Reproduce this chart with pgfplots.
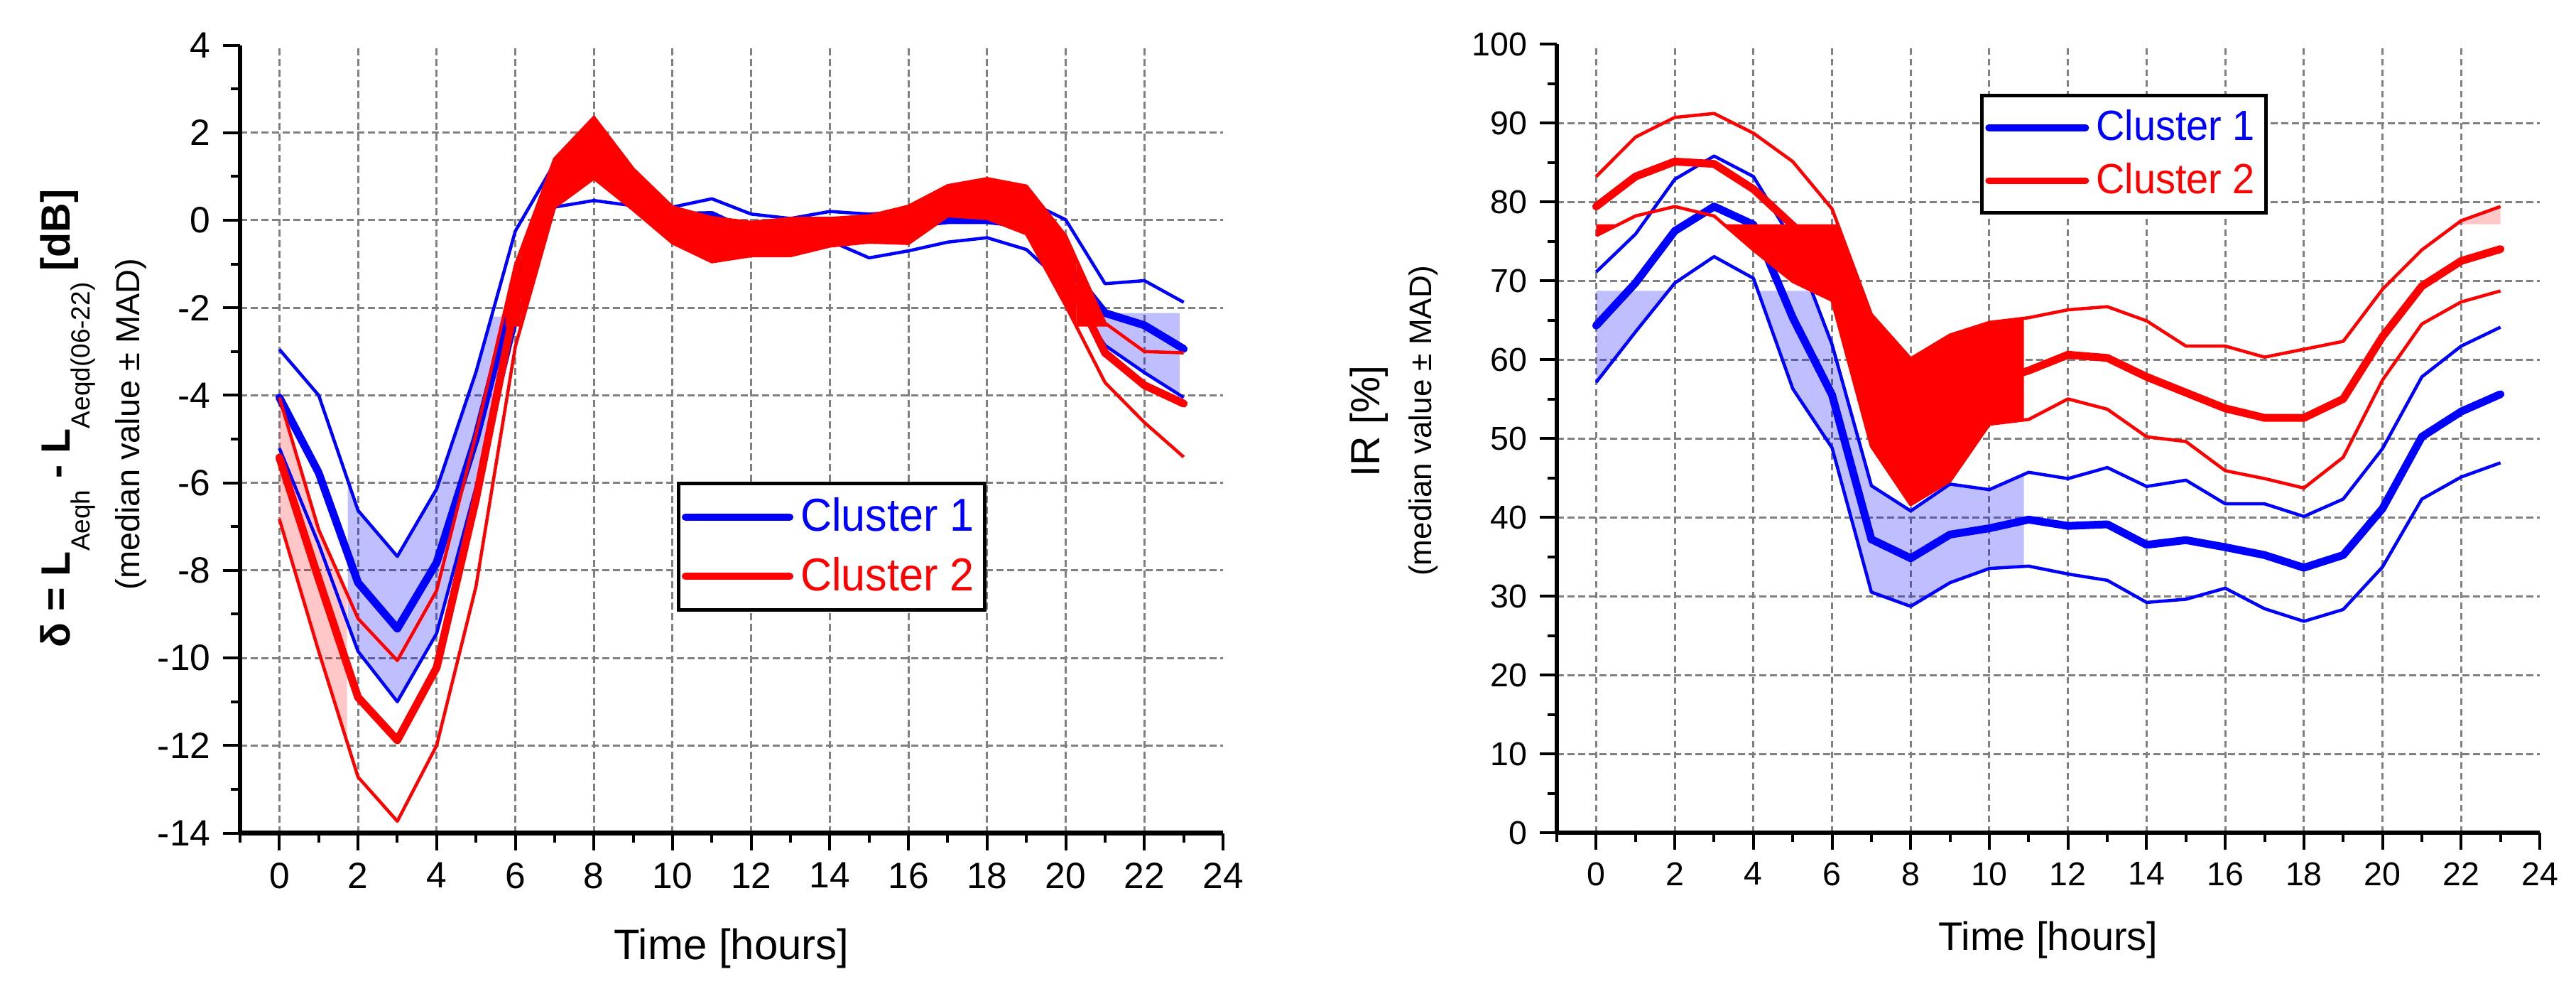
\documentclass[border=0pt]{standalone}
\usepackage{fontspec}
\setmainfont{Liberation Sans}
\newfontfamily\legfont{Liberation Sans}[FakeStretch=0.94]
\usepackage{pgfplots}
\pgfplotsset{compat=1.18}
\usepackage{pgfplotstable}
\usepgfplotslibrary{fillbetween}

% columns: C1 upper/median/lower, C2 upper/median/lower (median +- MAD)
\pgfplotstableread{
x  bu     bm     bl     ru     rm     rl
0  -2.95  -4.05  -5.21  -4.05  -5.42  -6.83
1  -4.00  -5.77  -7.40  -7.07  -8.20  -9.85
2  -6.63  -8.28  -9.85  -9.10  -10.90 -12.72
3  -7.68  -9.33  -11.00 -10.06 -11.88 -13.73
4  -6.14  -7.82  -9.44  -8.46  -10.22 -12.00
5  -3.47  -4.98  -6.10  -4.90  -6.37  -8.37
6  -0.25  -1.50  -2.40  -1.04  -1.90  -2.89
7  1.30   0.90   0.30   1.40   0.85   0.30
8  1.50   1.20   0.45   2.35   1.65   0.96
9  1.00   0.70   0.33   1.17   0.70   0.24
10 0.30   0.10   0.24   0.30   -0.10  -0.52
11 0.49   0.12   -0.50  0.06   -0.45  -0.95
12 0.14   -0.30  -0.60  -0.05  -0.43  -0.81
13 0.04   -0.30  -0.55  0.04   -0.38  -0.81
14 0.20   -0.20  -0.47  0.04   -0.28  -0.59
15 0.14   -0.15  -0.86  0.10   -0.20  -0.50
16 0.20   -0.10  -0.70  0.32   -0.10  -0.53
17 0.50   0.00   -0.50  0.79   0.45   0.10
18 0.60   0.00   -0.40  0.95   0.50   0.04
19 0.45   -0.10  -0.67  0.78   0.25   -0.31
20 0.01   -1.00  -1.50  -0.36  -1.20  -1.95
21 -1.45  -2.12  -2.86  -2.35  -3.03  -3.71
22 -1.38  -2.40  -3.48  -3.00  -3.77  -4.62
23 -1.875 -2.94  -4.05  -3.03  -4.19  -5.41
}\dataL

\pgfplotstableread{
x  bu    bm    bl    ru    rm    rl
0  71.1  64.3  57.1  83.2  79.4  75.7
1  75.9  69.7  63.5  88.2  83.2  78.2
2  82.85 76.3  69.7  90.7  85.1  79.4
3  85.8  79.4  73.05 91.2  84.8  78.2
4  83.2  77.1  70.3  88.7  81.6  73.9
5  75.0  65.3  56.3  85.1  77.0  69.9
6  61.9  55.5  48.8  79.1  72.0  67.5
7  44.0  37.2  30.5  65.7  55.0  49.0
8  40.8  34.8  28.7  60.1  50.0  41.6
9  44.2  37.8  31.7  63.1  53.0  44.6
10 43.5  38.6  33.5  64.7  57.0  51.8
11 45.7  39.7  33.8  65.3  58.6  52.4
12 44.9  38.9  32.8  66.3  60.6  55.0
13 46.3  39.1  32.0  66.7  60.2  53.7
14 43.9  36.5  29.2  64.9  57.8  50.2
15 44.7  37.1  29.6  61.7  55.8  49.6
16 41.7  36.2  31.0  61.7  53.8  45.9
17 41.7  35.2  28.4  60.3  52.6  44.9
18 40.1  33.6  26.8  61.3  52.6  43.7
19 42.3  35.2  28.3  62.3  55.0  47.6
20 48.7  41.1  33.7  68.9  62.9  57.4
21 57.8  50.2  42.3  73.9  69.3  64.5
22 61.7  53.4  45.1  77.6  72.5  67.3
23 64.1  55.6  46.9  79.4  74.0  68.7
}\dataR

\tikzset{
  cthin/.style={line width=0.9pt,line join=round},
  cthick/.style={line width=2.2pt,line join=round,line cap=round},
}

\pgfplotsset{
  bshade/.style={fill=blue,fill opacity=0.25,draw=none,forget plot},
  rshade/.style={fill=red,fill opacity=0.22,draw=none,forget plot},
  rband/.style={fill=red,draw=none,forget plot},
  origin/.style={
    scale only axis,
    width=276.8pt,
    height=221.8pt,
    anchor=south west,
    set layers,
    axis x line*=bottom,
    axis y line*=left,
    axis line style={line width=1.3pt,-},
    tick style={line width=0.8pt,black},
    tick align=outside,
    major tick length=4.8pt,
    minor tick length=2.6pt,
    xmin=-1, xmax=24,
    xtick={0,2,...,22},
    extra x ticks={24},
    extra x tick style={grid=none},
    minor xtick={-1,1,...,23},
    extra y tick style={grid=none},
    xmajorgrids, ymajorgrids,
    major grid style={black!50,line width=0.6pt,dash pattern=on 1.9pt off 1.1pt},
    /pgf/number format/assume math mode=true,
    legend cell align=left,
  }
}

\begin{document}
\begin{tikzpicture}
\path (0,0) rectangle (725.4pt,276.8pt);

\begin{axis}[origin,
  at={(67.6pt,42.3pt)},
  ymin=-14, ymax=4,
  ytick={-14,-12,...,2},
  extra y ticks={4},
  minor ytick={-13,-11,...,3},
  tick label style={font=\fontsize{10.3}{11}\selectfont},
  xlabel={Time [hours]},
  xlabel style={font=\fontsize{12}{13}\selectfont,at={(axis description cs:0.5,0)},anchor=base,yshift=-35.5pt},
  legend image code/.code={\draw[#1,line width=2pt,line cap=round] (0pt,0pt) -- (29.4pt,0pt);},
  legend style={at={(0.444,0.446)},anchor=north west,draw=black,line width=1pt,
    font=\legfont\fontsize{13}{14}\selectfont,inner xsep=1pt,inner ysep=2pt,row sep=1.8pt},
]
\addlegendimage{blue}
\addlegendentry{\textcolor{blue}{Cluster 1}}
\addlegendimage{red}
\addlegendentry{\textcolor{red}{Cluster 2}}

\addplot[name path=bu,draw=none,forget plot] table[x=x,y=bu]{\dataL};
\addplot[name path=bl,draw=none,forget plot] table[x=x,y=bl]{\dataL};
\addplot[name path=ru,draw=none,forget plot] table[x=x,y=ru]{\dataL};
\addplot[name path=rl,draw=none,forget plot] table[x=x,y=rl]{\dataL};
% cut-off levels of the shaded areas
\addplot[name path=c1,draw=none,forget plot] coordinates {(-1,-2.2) (24,-2.2)};
\addplot[name path=c2,draw=none,forget plot] coordinates {(-1,-2.12) (24,-2.12)};
\addplot[name path=c3,draw=none,forget plot] coordinates {(-1,-2.43) (24,-2.43)};

\addplot[rshade] fill between[of=ru and rl,soft clip={domain=0:1.72}];
\addplot[bshade] fill between[of=bu and bl,soft clip={domain=1.74:5.39}];
\addplot[bshade] fill between[of=c1 and bl,soft clip={domain=5.39:5.74}];
\addplot[bshade] fill between[of=c2 and bl,soft clip={domain=20.8:22.9}];

\addplot[blue,cthin,forget plot] table[x=x,y=bu]{\dataL};
\addplot[blue,cthin,forget plot] table[x=x,y=bl]{\dataL};
\addplot[blue,cthick,forget plot] table[x=x,y=bm]{\dataL};
\addplot[red,cthin,forget plot] table[x=x,y=ru]{\dataL};
\addplot[red,cthin,forget plot] table[x=x,y=rl]{\dataL};
\addplot[red,cthick,forget plot] table[x=x,y=rm]{\dataL};

\addplot[rband] fill between[of=ru and c3,on layer=axis foreground,soft clip={domain=5.75:6.144}];
\addplot[rband] fill between[of=ru and rl,on layer=axis foreground,soft clip={domain=6.144:20.27}];
\addplot[rband] fill between[of=ru and c3,on layer=axis foreground,soft clip={domain=20.27:21.12}];
\end{axis}

\begin{axis}[origin,
  at={(438.4pt,42.4pt)},
  height=222pt,
  ymin=0, ymax=100,
  ytick={0,10,...,90},
  extra y ticks={100},
  minor ytick={5,15,...,95},
  tick label style={font=\fontsize{9.3}{10}\selectfont},
  xlabel={Time [hours]},
  xlabel style={font=\fontsize{11.2}{12}\selectfont,at={(axis description cs:0.5,0)},anchor=base,yshift=-33pt},
  legend image code/.code={\draw[#1,line width=1.9pt,line cap=round] (0pt,0pt) -- (27.3pt,0pt);},
  legend style={at={(0.4305,0.937)},anchor=north west,draw=black,line width=1pt,
    font=\legfont\fontsize{11.9}{13}\selectfont,inner xsep=1pt,inner ysep=2pt,row sep=0.8pt},
]
\addlegendimage{blue}
\addlegendentry{\textcolor{blue}{Cluster 1}}
\addlegendimage{red}
\addlegendentry{\textcolor{red}{Cluster 2}}

\addplot[name path=bu,draw=none,forget plot] table[x=x,y=bu]{\dataR};
\addplot[name path=bl,draw=none,forget plot] table[x=x,y=bl]{\dataR};
\addplot[name path=ru,draw=none,forget plot] table[x=x,y=ru]{\dataR};
\addplot[name path=rl,draw=none,forget plot] table[x=x,y=rl]{\dataR};
% cut-off levels of the shaded areas
\addplot[name path=c1,draw=none,forget plot] coordinates {(-1,68.7) (24,68.7)};
\addplot[name path=c2,draw=none,forget plot] coordinates {(-1,77.15) (24,77.15)};

\addplot[bshade] fill between[of=c1 and bl,soft clip={domain=0:1.84}];
\addplot[bshade] fill between[of=c1 and bl,soft clip={domain=4.11:5.48}];
\addplot[bshade] fill between[of=bu and bl,soft clip={domain=5.48:10.88}];
\addplot[rshade] fill between[of=ru and c2,soft clip={domain=21.88:23}];

\addplot[blue,cthin,forget plot] table[x=x,y=bu]{\dataR};
\addplot[blue,cthin,forget plot] table[x=x,y=bl]{\dataR};
\addplot[blue,cthick,forget plot] table[x=x,y=bm]{\dataR};
\addplot[red,cthin,forget plot] table[x=x,y=ru]{\dataR};
\addplot[red,cthin,forget plot] table[x=x,y=rl]{\dataR};
\addplot[red,cthick,forget plot] table[x=x,y=rm]{\dataR};

\addplot[rband] fill between[of=c2 and rl,on layer=axis foreground,soft clip={domain=0:0.58}];
\addplot[rband] fill between[of=c2 and rl,on layer=axis foreground,soft clip={domain=3.24:6.15}];
\addplot[rband] fill between[of=ru and rl,on layer=axis foreground,soft clip={domain=6.15:10.88}];
\end{axis}

% axis titles
\node[rotate=90,anchor=base,font=\fontsize{11.5}{13}\selectfont\bfseries] at (19.8pt,159pt)
  {δ = L\raisebox{-5.6pt}{\mdseries\fontsize{7.4}{8}\selectfont Aeqh} - L\raisebox{-5.6pt}{\mdseries\fontsize{7.4}{8}\selectfont Aeqd(06-22)} [dB]};
\node[rotate=90,anchor=base,font=\fontsize{9.4}{11}\selectfont] at (39.2pt,157.4pt)
  {(median value ± MAD)};
\node[rotate=90,anchor=base,font=\fontsize{11.5}{13}\selectfont] at (388.4pt,158.2pt)
  {IR [\%]};
\node[rotate=90,anchor=base,font=\fontsize{8.8}{10}\selectfont] at (403pt,158.4pt)
  {(median value ± MAD)};
\end{tikzpicture}
\end{document}
